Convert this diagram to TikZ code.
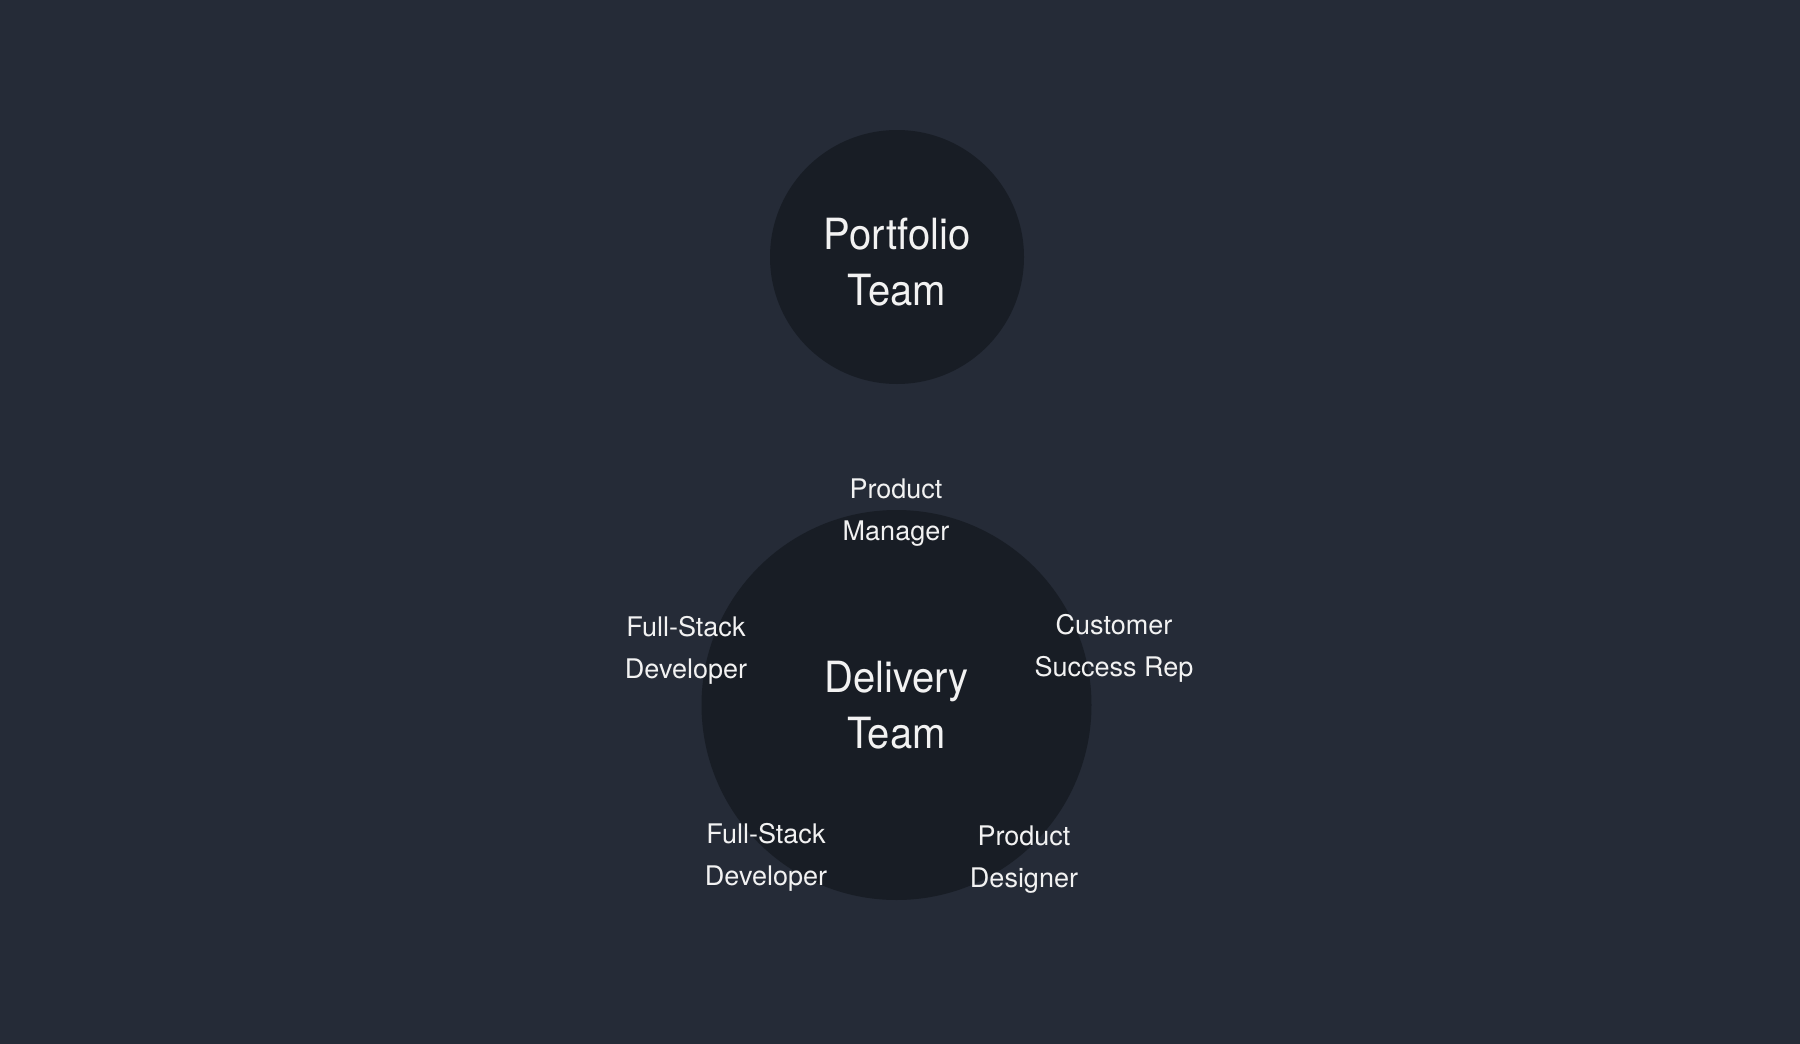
\documentclass[tikz,border=0pt]{standalone}
\usepackage{fontspec}
\setmainfont{TeX Gyre Heros}
\newfontfamily\bigfont{TeX Gyre Heros}[FakeStretch=0.93]
\definecolor{bgcol}{HTML}{252B37}
\definecolor{circcol}{HTML}{181D25}
\definecolor{txtcol}{HTML}{F2F2F2}
\tikzset{
  team/.style={circle, fill=circcol, inner sep=0pt, text=txtcol, align=center,
    font=\bigfont\fontsize{43}{56}\selectfont},
  role/.style={text=txtcol, align=center, inner sep=0pt, anchor=base,
    font=\fontsize{27}{42}\selectfont}
}
\begin{document}
\begin{tikzpicture}[x=1pt,y=-1pt]
\fill[bgcol] (0,0) rectangle (1800,1044);
\useasboundingbox (0,0) rectangle (1800,1044);
\node[team, minimum size=254pt] (portfolio) at (897,257) {\rule{0pt}{41pt}Portfolio\\Team};
\node[team, minimum size=390pt] (delivery) at (896.5,705) {Delivery\\Team};
\node[role] (pm) at (896,540) {Product\\Manager};
\node[role] (fs1) at (686,678) {Full-Stack\\Developer};
\node[role] (csr) at (1114,676) {Customer\\Success Rep};
\node[role] (fs2) at (766,885.5) {Full-Stack\\Developer};
\node[role] (pd) at (1024,887.5) {Product\\Designer};
\end{tikzpicture}
\end{document}
